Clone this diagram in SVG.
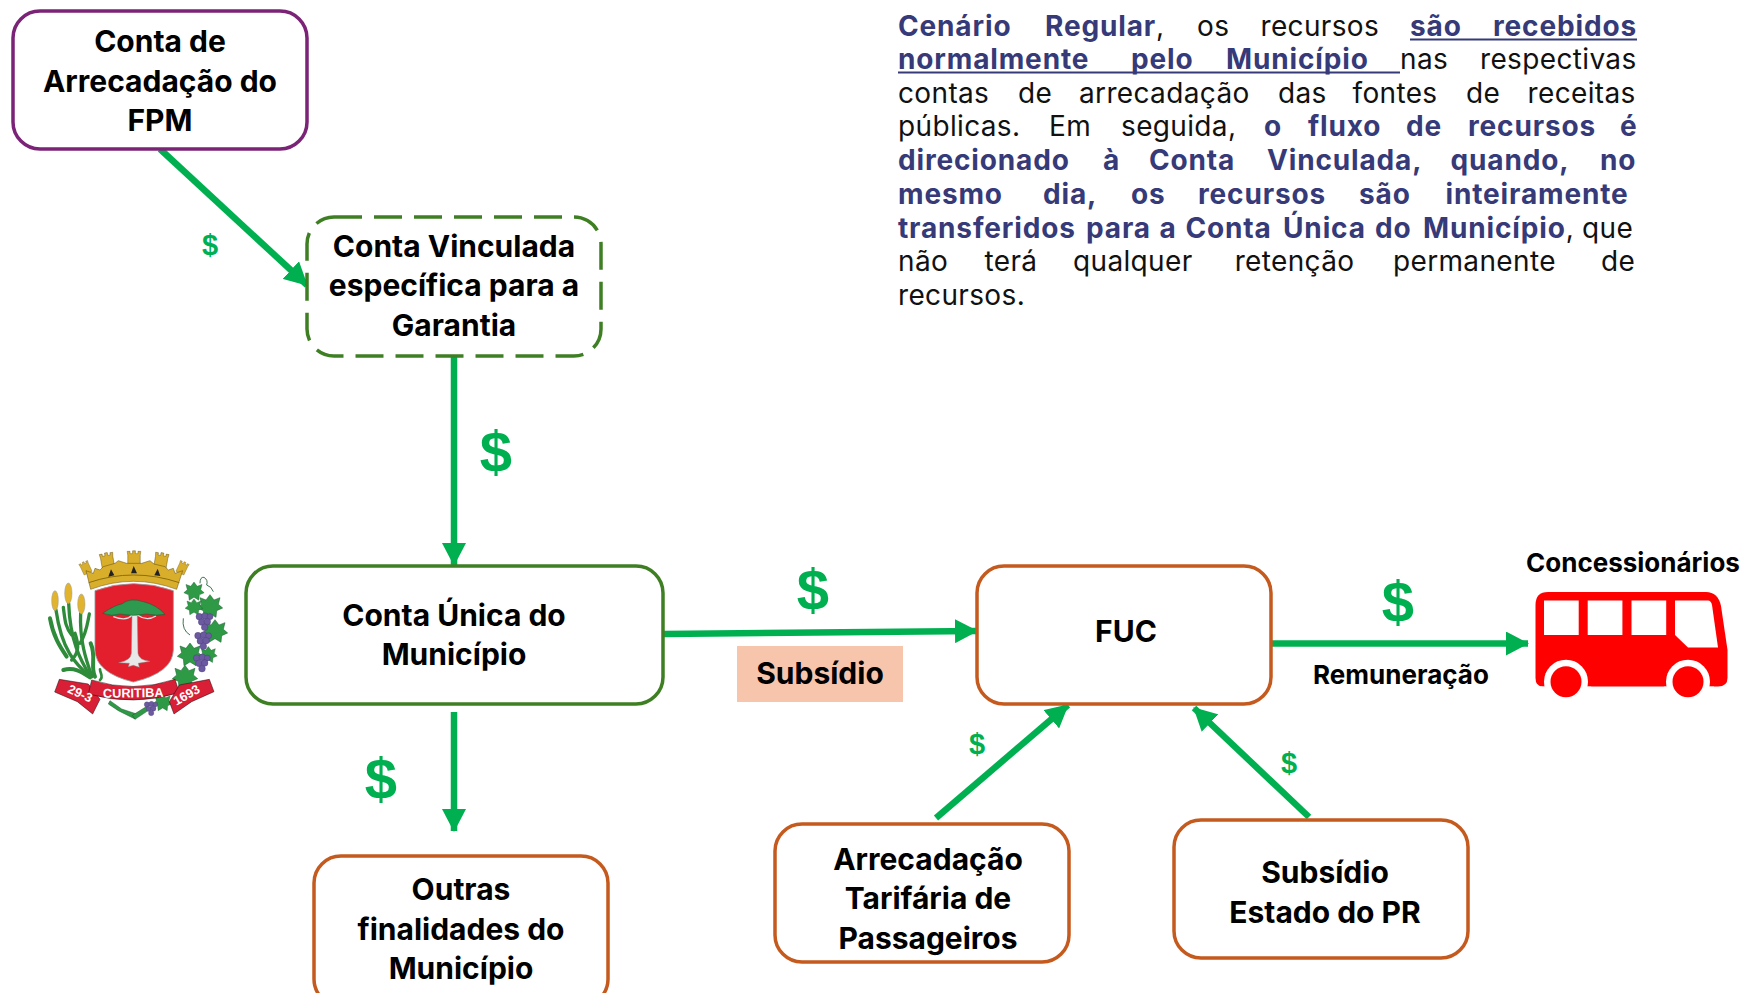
<svg xmlns="http://www.w3.org/2000/svg" width="1745" height="993" viewBox="0 0 1745 993">
<style>
.box{fill:#fff;stroke-width:3.5}
.lbl{font-family:"Inter","Liberation Sans",sans-serif;font-weight:700;font-size:30px;fill:#000;text-anchor:middle}
.small{font-size:26px}
.conn{stroke:#00B050;stroke-width:6.5;fill:none;marker-end:url(#ah)}
.dol{font-family:"Liberation Sans",sans-serif;font-weight:700;fill:#00B050;text-anchor:middle}
.body{font-family:"Inter","Noto Sans",sans-serif;font-size:28px;fill:#111;letter-spacing:.35px}
.body .b{font-weight:700;fill:#363A78;letter-spacing:.85px}
.ul{stroke:#363A78;stroke-width:2.2}
.stalk{fill:none;stroke:#2E8B3A;stroke-width:10;stroke-linecap:round}
.ear{fill:#E2B32C;stroke:#999;stroke-width:1.5}
.leaf{fill:#2F9A46;stroke:#14592a;stroke-width:1.5}
.grape{fill:#6B5AA0;stroke:#3f3570;stroke-width:1}
.rib{fill:#D91F35;stroke:#111;stroke-width:1.5}
.rt{font-family:"Liberation Sans",sans-serif;font-weight:700;fill:#fff;text-anchor:middle}
.gold{fill:#D9AE2B;stroke:#5a4a10;stroke-width:1.5}
</style>
<defs>
<marker id="ah" markerUnits="userSpaceOnUse" markerWidth="24" markerHeight="24" refX="22" refY="12" orient="auto"><path d="M0,0L23,12L0,24Z" fill="#00B050"/></marker>
<path id="lf" d="M0,-36L12,-20L30,-27L25,-7L38,4L20,12L18,32L0,21L-18,32L-20,12L-38,4L-25,-7L-30,-27L-12,-20Z"/>
<path id="tw" d="M-22,45L-22,0L-24,-14L-14,-14L-14,-6L-5,-6L-5,-16L5,-16L5,-6L14,-6L14,-14L24,-14L22,0L22,45Z"/>
<g id="bunch"><circle cx="-14" cy="-18" r="10"/><circle cx="3" cy="-20" r="10"/><circle cx="18" cy="-18" r="9"/><circle cx="-7" cy="-2" r="10"/><circle cx="10" cy="-3" r="10"/><circle cx="2" cy="14" r="10"/></g>
</defs>
<rect width="1745" height="993" fill="#fff"/>

<g id="connectors">
<line class="conn" x1="160" y1="149" x2="307" y2="285"/>
<line class="conn" x1="454" y1="356" x2="454" y2="565"/>
<line class="conn" x1="664" y1="634" x2="977" y2="631"/>
<line class="conn" x1="454" y1="712" x2="454" y2="831"/>
<line class="conn" x1="1272" y1="643.500" x2="1528" y2="643.500"/>
<line class="conn" x1="936" y1="818" x2="1068" y2="705"/>
<line class="conn" x1="1309" y1="817" x2="1194" y2="708"/>
</g>

<g id="node-fpm"><rect class="box" x="13" y="11" width="294" height="138" rx="27" stroke="#7B2376"/>
<text class="lbl" x="160" y="52">Conta de</text><text class="lbl" x="160" y="92">Arrecadação do</text><text class="lbl" x="160" y="131">FPM</text></g>

<g id="node-vinculada"><rect class="box" x="307" y="217" width="294" height="139" rx="27" stroke="#3F7F24" stroke-dasharray="28 12"/>
<text class="lbl" x="454" y="257">Conta Vinculada</text><text class="lbl" x="454" y="296">específica para a</text><text class="lbl" x="454" y="336">Garantia</text></g>

<g id="node-unica"><rect class="box" x="246" y="566" width="417" height="138" rx="27" stroke="#3F7F24"/>
<text class="lbl" x="454" y="626">Conta Única do</text><text class="lbl" x="454" y="665">Município</text></g>

<g id="node-fuc"><rect class="box" x="977" y="566" width="294" height="138" rx="27" stroke="#C55A1E"/>
<text class="lbl" x="1126" y="642">FUC</text></g>

<g id="node-outras"><rect class="box" x="314" y="856" width="294" height="150" rx="27" stroke="#C55A1E"/>
<text class="lbl" x="461" y="900">Outras</text><text class="lbl" x="461" y="940">finalidades do</text><text class="lbl" x="461" y="979">Município</text></g>

<g id="node-arrecadacao"><rect class="box" x="775" y="824" width="294" height="138" rx="27" stroke="#C55A1E"/>
<text class="lbl" x="928" y="870">Arrecadação</text><text class="lbl" x="928" y="909">Tarifária de</text><text class="lbl" x="928" y="949">Passageiros</text></g>

<g id="node-subsidio-estado"><rect class="box" x="1174" y="820" width="294" height="138" rx="27" stroke="#C55A1E"/>
<text class="lbl" x="1325" y="883">Subsídio</text><text class="lbl" x="1325" y="923">Estado do PR</text></g>

<g id="label-subsidio"><rect x="737" y="646" width="166" height="56" fill="#F7C5AC"/>
<text class="lbl" x="820" y="684">Subsídio</text></g>

<g id="dollars">
<text class="dol" x="210" y="255" font-size="29">$</text>
<text class="dol" x="496" y="472" font-size="58">$</text>
<text class="dol" x="813" y="610" font-size="58">$</text>
<text class="dol" x="381" y="799" font-size="58">$</text>
<text class="dol" x="1398" y="622" font-size="58">$</text>
<text class="dol" x="977" y="754" font-size="29">$</text>
<text class="dol" x="1289" y="773" font-size="29">$</text>
</g>

<text class="lbl small" x="1401" y="684">Remuneração</text>

<g id="node-concessionarios">
<text class="lbl small" x="1633" y="572">Concessionários</text>
<g transform="translate(-4,0)">
<path fill="#F00" d="M1539.500,605Q1539.500,592 1552,592L1710,592Q1722,592 1725,606L1731.500,650L1731.500,678Q1731.500,686.500 1722,686.500L1547,686.500Q1539.500,686.500 1539.500,678Z"/>
<g fill="#fff">
<rect x="1548" y="600.500" width="34.700" height="34.500"/><rect x="1591.700" y="600.500" width="34.700" height="34.500"/><rect x="1635.500" y="600.500" width="34.700" height="34.500"/>
<path d="M1679,600.500L1712,600.500Q1715,600.500 1716,605L1722,647.500L1692,647.500L1679,635Z"/>
<circle cx="1570" cy="681.700" r="22"/><circle cx="1692" cy="681.700" r="22"/>
<rect x="1545" y="686.600" width="50" height="12"/><rect x="1668" y="686.600" width="50" height="12"/>
</g>
<circle cx="1570" cy="681.700" r="15.500" fill="#F00"/><circle cx="1692" cy="681.700" r="15.500" fill="#F00"/>
</g>
</g>

<g id="crest" transform="translate(0,520) scale(.33333)">
<!-- wheat -->
<g class="stalk">
<path d="M270,470C225,430 185,390 168,270"/>
<path d="M272,470C240,420 210,360 206,250"/>
<path d="M276,470C258,420 238,360 242,280"/>
<path d="M285,470C270,440 290,410 272,370" stroke-width="12"/>
<path d="M190,450C220,440 245,455 270,472" stroke-width="12"/>
<path d="M200,410C180,380 160,350 150,295" stroke-width="12"/>
<path d="M215,345C195,320 195,300 190,262" stroke-width="10"/>
<path d="M240,370C260,340 262,310 268,282" stroke-width="10"/>
<path d="M215,420C240,395 235,370 225,340" stroke-width="10"/>
<path d="M300,480C312,470 300,460 300,448" stroke-width="8"/>
</g>
<ellipse class="ear" cx="165" cy="242" rx="10" ry="30"/><ellipse class="ear" cx="205" cy="220" rx="11" ry="31"/><ellipse class="ear" cx="244" cy="252" rx="11" ry="30"/>
<!-- vine -->
<g class="leaf">
<use href="#lf" transform="translate(582,215) scale(.8)"/>
<use href="#lf" transform="translate(630,260)"/>
<use href="#lf" transform="translate(582,262) scale(.7)"/>
<use href="#lf" transform="translate(645,335)"/>
<use href="#lf" transform="translate(570,405)"/>
<use href="#lf" transform="translate(625,405) scale(.7)"/>
<use href="#lf" transform="translate(555,472)"/>
<use href="#lf" transform="translate(488,548) scale(.75)"/>
</g>
<path d="M330,542l35,25l45,15l-5,15l-50,-25l-30,-20z" class="leaf"/>
<path d="M405,598l45,-30l-8,-10l-45,28z" class="leaf"/>
<path d="M600,190Q600,170 612,172Q625,180 620,195Q635,200 640,215M550,295Q545,330 570,345" fill="none" stroke="#14592a" stroke-width="2.500"/>
<g class="grape">
<use href="#bunch" transform="translate(612,308)"/>
<use href="#bunch" transform="translate(608,365)"/>
<use href="#bunch" transform="translate(604,432)"/>
<use href="#bunch" transform="translate(452,568) scale(.8)"/>
</g>
<!-- shield -->
<path d="M285,212Q400,170 520,212L520,390Q518,458 400,486Q287,458 285,390Z" fill="#E31E2D" stroke="#999" stroke-width="2.500"/>
<!-- tree -->
<path d="M396,285L412,285L414,400Q416,420 450,424L415,430L418,442L400,436L385,440L388,430L356,428Q392,422 394,400Z" fill="#E8E8E8" stroke="#888" stroke-width="1.500"/>
<path d="M340,290Q380,305 396,285M412,285Q440,305 468,288" fill="none" stroke="#ddd" stroke-width="4"/>
<path d="M308,280Q345,255 365,252Q390,232 430,245Q470,255 495,283Q470,288 440,282Q400,290 360,282Q335,290 308,280Z" fill="#2E9A50" stroke="#145a2c" stroke-width="1.500"/>
<!-- crown -->
<g class="gold">
<use href="#tw" transform="translate(253,135) rotate(-25) scale(.6)"/>
<use href="#tw" transform="translate(320,112) rotate(-10) scale(.85)"/>
<use href="#tw" transform="translate(402,106) scale(.85)"/>
<use href="#tw" transform="translate(485,112) rotate(10) scale(.85)"/>
<use href="#tw" transform="translate(551,135) rotate(25) scale(.6)"/>
<path d="M258,152L280,160L285,145L300,150L310,140L345,130L355,122L380,130L425,130L450,122L462,132L495,140L505,150L520,145L525,160L548,152L530,208Q400,160 272,208Z"/>
</g>
<path d="M266,188Q400,142 538,188" fill="none" stroke="#8a6d10" stroke-width="3"/>
<path d="M325,170l8,-22l10,18zM393,160l8,-22l10,22zM463,166l10,-20l8,22z" fill="#222"/>
<!-- ribbons -->
<path class="rib" d="M178,478L265,492L300,538L278,582L232,545L164,516Z"/>
<path class="rib" d="M275,480Q400,520 525,478L538,518Q400,560 265,522Z"/>
<path class="rib" d="M628,478L538,495L508,545L522,582L575,545L642,515Z"/>
<text class="rt" x="400" y="532" font-size="38" transform="rotate(-1 400 532)">CURITIBA</text>
<text class="rt" x="235" y="532" font-size="38" transform="rotate(25 235 532)">29-3</text>
<text class="rt" x="566" y="536" font-size="38" transform="rotate(-30 566 536)">1693</text>
</g>

<g id="description">
<text class="body" y="36"><tspan class="b" x="898">Cenário</tspan> <tspan class="b" x="1045">Regular</tspan>, <tspan x="1197">os</tspan> <tspan x="1260.500">recursos</tspan> <tspan class="b" x="1410">são</tspan> <tspan class="b" x="1493">recebidos</tspan></text>
<text class="body" y="69"><tspan class="b" x="898">normalmente</tspan> <tspan class="b" x="1131">pelo</tspan> <tspan class="b" x="1226">Município</tspan> <tspan x="1400">nas</tspan> <tspan x="1480">respectivas</tspan></text>
<text class="body" y="103"><tspan x="898">contas</tspan> <tspan x="1018">de</tspan> <tspan x="1079">arrecadação</tspan> <tspan x="1278">das</tspan> <tspan x="1352.500">fontes</tspan> <tspan x="1466">de</tspan> <tspan x="1527.600">receitas</tspan></text>
<text class="body" y="136"><tspan x="898">públicas.</tspan> <tspan x="1049">Em</tspan> <tspan x="1121">seguida,</tspan> <tspan class="b" x="1264">o</tspan> <tspan class="b" x="1308">fluxo</tspan> <tspan class="b" x="1406">de</tspan> <tspan class="b" x="1468">recursos</tspan> <tspan class="b" x="1620">é</tspan></text>
<text class="body" y="170.300"><tspan class="b" x="898">direcionado</tspan> <tspan class="b" x="1103">à</tspan> <tspan class="b" x="1149">Conta</tspan> <tspan class="b" x="1267">Vinculada,</tspan> <tspan class="b" x="1450.500">quando,</tspan> <tspan class="b" x="1600">no</tspan></text>
<text class="body" y="204"><tspan class="b" x="898">mesmo</tspan> <tspan class="b" x="1043">dia,</tspan> <tspan class="b" x="1131">os</tspan> <tspan class="b" x="1198">recursos</tspan> <tspan class="b" x="1359">são</tspan> <tspan class="b" x="1445.500">inteiramente</tspan></text>
<text class="body" y="237.700"><tspan class="b" x="898">transferidos</tspan> <tspan class="b" x="1086">para</tspan> <tspan class="b" x="1159.600">a</tspan> <tspan class="b" x="1185.400">Conta</tspan> <tspan class="b" x="1283">Única</tspan> <tspan class="b" x="1375">do</tspan> <tspan class="b" x="1423">Município</tspan>, <tspan x="1582">que</tspan></text>
<text class="body" y="271.300"><tspan x="898">não</tspan> <tspan x="984.500">terá</tspan> <tspan x="1073">qualquer</tspan> <tspan x="1234.700">retenção</tspan> <tspan x="1393">permanente</tspan> <tspan x="1601">de</tspan></text>
<text class="body" y="305"><tspan x="898">recursos.</tspan></text>
<line class="ul" x1="1410" y1="39.500" x2="1637" y2="39.500"/>
<line class="ul" x1="898" y1="72.500" x2="1400" y2="72.500"/>
</g>
</svg>
